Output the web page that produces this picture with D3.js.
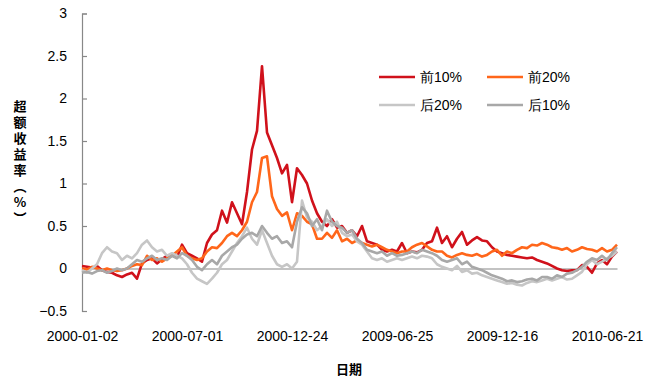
<!DOCTYPE html>
<html><head><meta charset="utf-8">
<script src="https://cdn.jsdelivr.net/npm/d3@7"></script>
<style>
html,body{margin:0;padding:0;background:#fff;}
svg{display:block;font-family:"Liberation Sans",Arial,"Noto Sans CJK SC",sans-serif;}
</style></head>
<body>
<svg id="chart" width="648" height="381"></svg>
<script>
// ---- data ----
const seriesNames = ["前10%", "前20%", "后20%", "后10%"];
const seriesColors = ["#D0111B", "#FF661A", "#C6C6C6", "#A8A8A8"];
const top10 = [0.03,0.02,0.01,0.03,-0.02,-0.04,-0.05,-0.08,-0.1,-0.07,-0.05,-0.12,0.06,0.1,0.12,0.06,0.11,0.15,0.16,0.13,0.28,0.18,0.15,0.12,0.08,0.3,0.4,0.45,0.68,0.54,0.78,0.65,0.52,0.9,1.4,1.62,2.38,1.6,1.45,1.3,1.12,1.22,0.78,1.18,1.1,1.0,0.8,0.65,0.55,0.5,0.58,0.48,0.5,0.42,0.45,0.38,0.5,0.32,0.3,0.28,0.22,0.2,0.22,0.2,0.3,0.18,0.2,0.19,0.22,0.3,0.32,0.48,0.3,0.38,0.25,0.35,0.43,0.28,0.33,0.37,0.33,0.32,0.25,0.2,0.18,0.16,0.15,0.14,0.13,0.12,0.13,0.1,0.08,0.06,0.03,0.0,-0.02,-0.03,-0.02,-0.02,0.04,0.02,-0.05,0.06,0.1,0.05,0.14,0.2];
const top20 = [0.0,-0.01,0.02,0.0,-0.02,0.0,-0.02,-0.03,-0.02,0.0,0.03,0.05,0.04,0.15,0.1,0.12,0.08,0.12,0.15,0.2,0.25,0.15,0.12,0.1,0.12,0.2,0.25,0.24,0.3,0.38,0.42,0.38,0.45,0.55,0.78,0.9,1.3,1.32,0.85,0.7,0.62,0.66,0.45,0.65,0.62,0.55,0.52,0.35,0.35,0.42,0.36,0.45,0.32,0.35,0.3,0.33,0.3,0.28,0.26,0.28,0.25,0.22,0.2,0.18,0.2,0.2,0.25,0.28,0.3,0.26,0.22,0.2,0.2,0.15,0.13,0.16,0.18,0.16,0.15,0.17,0.14,0.16,0.2,0.22,0.15,0.2,0.18,0.22,0.25,0.24,0.28,0.27,0.3,0.28,0.25,0.24,0.22,0.24,0.2,0.22,0.25,0.23,0.22,0.2,0.24,0.2,0.22,0.28];
const bottom20 = [-0.02,-0.05,0.0,0.05,0.18,0.25,0.2,0.18,0.1,0.15,0.12,0.18,0.28,0.33,0.25,0.2,0.22,0.15,0.18,0.15,0.12,0.05,-0.05,-0.12,-0.15,-0.18,-0.12,-0.05,0.05,0.1,0.2,0.3,0.38,0.48,0.35,0.28,0.45,0.3,0.15,0.05,0.02,0.05,0.0,0.08,0.8,0.6,0.55,0.45,0.5,0.58,0.5,0.55,0.42,0.38,0.4,0.32,0.28,0.2,0.12,0.1,0.12,0.08,0.1,0.12,0.1,0.12,0.14,0.12,0.15,0.14,0.12,0.05,0.02,0.0,-0.02,0.03,-0.04,-0.02,-0.06,-0.05,-0.08,-0.1,-0.12,-0.14,-0.16,-0.18,-0.17,-0.19,-0.2,-0.17,-0.15,-0.16,-0.14,-0.12,-0.14,-0.12,-0.1,-0.13,-0.12,-0.08,-0.04,0.05,0.1,0.05,0.08,0.12,0.15,0.2];
const bottom10 = [-0.05,-0.04,-0.06,-0.03,-0.02,-0.05,-0.03,0.0,-0.02,0.0,0.05,0.1,0.08,0.12,0.15,0.1,0.12,0.1,0.15,0.12,0.18,0.15,0.1,0.02,-0.02,0.05,0.1,0.05,0.15,0.2,0.25,0.28,0.35,0.4,0.42,0.38,0.5,0.42,0.35,0.38,0.3,0.32,0.25,0.55,0.72,0.65,0.5,0.58,0.45,0.68,0.55,0.5,0.48,0.42,0.45,0.35,0.3,0.22,0.2,0.18,0.2,0.15,0.18,0.15,0.16,0.18,0.2,0.18,0.22,0.2,0.18,0.15,0.1,0.08,0.1,0.12,0.05,0.08,0.02,0.0,-0.02,-0.05,-0.08,-0.1,-0.12,-0.15,-0.14,-0.16,-0.15,-0.13,-0.12,-0.14,-0.1,-0.1,-0.12,-0.08,-0.1,-0.06,-0.05,-0.02,0.02,0.08,0.12,0.1,0.15,0.1,0.18,0.25];
const dateLabels = ["2000-01-02", "2000-07-01", "2000-12-24", "2009-06-25", "2009-12-16", "2010-06-21"];
const dateLabelIndex = [0, 21, 42, 63, 84, 105];
const yTicks = [-0.5, 0, 0.5, 1, 1.5, 2, 2.5, 3];
const yTitle = "超额收益率（%）";
const xTitle = "日期";

const allSeries = [top10, top20, bottom20, bottom10];

// ---- layout ----
const svg = d3.select("#chart");
const plotLeft = 82, plotRight = 617, plotTop = 13.5, plotBottom = 311;
const n = top10.length;
const x = d3.scaleLinear().domain([0, n - 1]).range([plotLeft, plotRight]);
const y = d3.scaleLinear().domain([-0.5, 3]).range([plotBottom, plotTop]);
const font = '"Liberation Sans", Arial, sans-serif';

// y axis
const yAxis = svg.append("g").attr("transform", `translate(${plotLeft},0)`)
  .call(d3.axisLeft(y).tickValues(yTicks).tickSize(-5).tickSizeOuter(-5).tickPadding(15)
    .tickFormat(d => d3.format("")(d)));
yAxis.selectAll("path, line").attr("stroke", "#888").attr("stroke-width", 1.2);
yAxis.selectAll("text").attr("font-size", 14).attr("font-family", font).attr("fill", "#000");

// zero line (category axis)
const zAxis = svg.append("g").attr("transform", `translate(0,${y(0)})`)
  .call(d3.axisBottom(x).tickValues([]).tickSizeOuter(0));
zAxis.select("path").attr("stroke", "#888").attr("stroke-width", 1.2);

// date labels
const xAxis = svg.append("g").attr("transform", `translate(0,${plotBottom})`)
  .call(d3.axisBottom(x).tickValues(dateLabelIndex).tickSize(0).tickPadding(20)
    .tickFormat((d, i) => dateLabels[i]));
xAxis.select(".domain").remove();
xAxis.selectAll("text").attr("font-size", 14).attr("font-family", font).attr("fill", "#000");

// lines
const line = d3.line().x((d, i) => x(i)).y(d => y(d));
svg.append("g").selectAll("path").data(allSeries).join("path")
  .attr("d", line)
  .attr("fill", "none")
  .attr("stroke", (d, i) => seriesColors[i])
  .attr("stroke-width", 2.6)
  .attr("stroke-linejoin", "round");

// legend
const legPos = [[379, 77], [487, 77], [379, 105], [487, 105]];
const leg = svg.append("g");
seriesNames.forEach((name, i) => {
  const [lx, ly] = legPos[i];
  leg.append("line").attr("x1", lx).attr("x2", lx + 36).attr("y1", ly).attr("y2", ly)
    .attr("stroke", seriesColors[i]).attr("stroke-width", 2.6);
  leg.append("text").attr("x", lx + 41).attr("y", ly).attr("dy", "0.36em")
    .attr("font-size", 14).attr("font-family", font).attr("fill", "#000").text(name);
});

// axis titles
svg.append("text").attr("x", 20).attr("y", 100)
  .attr("font-size", 13).attr("font-weight", "bold")
  .attr("font-family", '"Noto Sans CJK SC", sans-serif')
  .style("writing-mode", "vertical-rl").style("text-orientation", "upright")
  .style("letter-spacing", "3px")
  .text(yTitle);
svg.append("text").attr("x", 349).attr("y", 369).attr("dy", "0.36em")
  .attr("text-anchor", "middle").attr("font-size", 13).attr("font-weight", "bold")
  .attr("font-family", '"Noto Sans CJK SC", sans-serif')
  .text(xTitle);
</script>
</body></html>
